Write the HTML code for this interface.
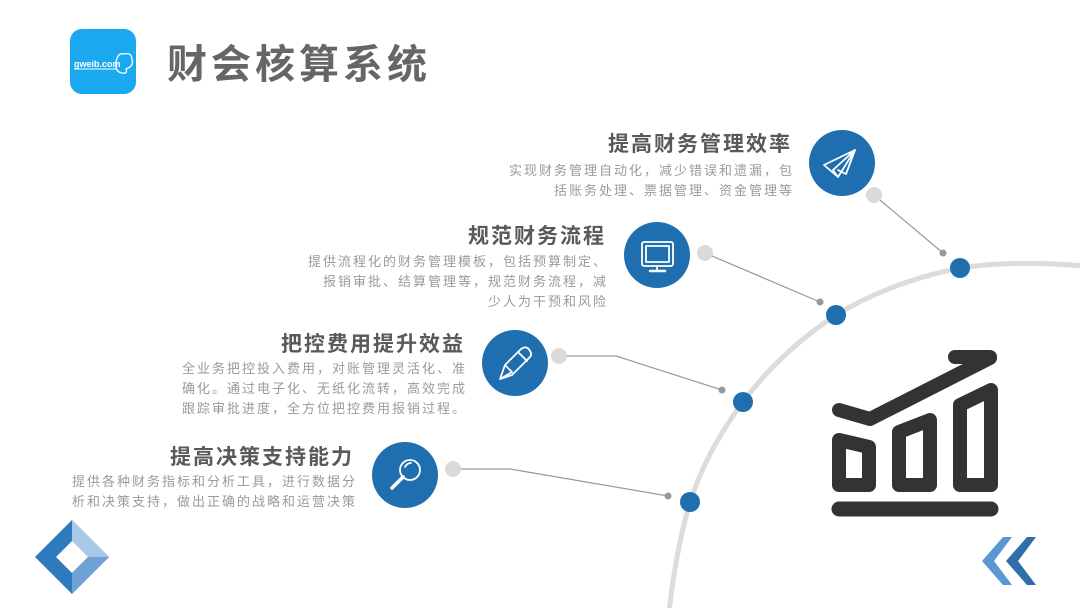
<!DOCTYPE html>
<html><head><meta charset="utf-8"><style>
html,body{margin:0;padding:0;background:#fff;}
body{width:1080px;height:608px;position:relative;overflow:hidden;font-family:"Liberation Sans","Noto Sans CJK SC",sans-serif;}
.t{position:absolute;font-weight:bold;color:#595959;font-size:21px;letter-spacing:2px;text-align:right;white-space:nowrap;line-height:24px;}
.d{position:absolute;color:#9a9a9a;font-size:13px;text-align:right;white-space:nowrap;line-height:20px;letter-spacing:2px;}
</style></head><body>
<svg width="1080" height="608" style="position:absolute;left:0;top:0">
<rect x="70" y="29" width="66" height="65" rx="12" fill="#1aa8ee"/>
<text x="74" y="67" font-family="Liberation Sans" font-size="9" font-weight="bold" fill="#fff">gweib.com</text>
<line x1="74" y1="69" x2="116" y2="69" stroke="#fff" stroke-width="1"/>
<path d="M116 62 Q118 52 124 54 Q132 52 132 60 Q134 66 126 69 Q128 74 122 73 Q116 72 116 66 Z" fill="none" stroke="#fff" stroke-width="1.3"/>
<path d="M1085 266 Q1010 260 960 268 Q890 282 836 315 Q780 352 743 402 Q707 450 690 502 Q676 550 669 612" fill="none" stroke="#dcdcdc" stroke-width="5"/>
<g stroke="#999" stroke-width="1.2" fill="none">
<line x1="874" y1="195" x2="943" y2="253"/>
<line x1="705" y1="253" x2="820" y2="302"/>
<polyline points="559,356 616,356 722,390"/>
<polyline points="453,469 510,469 668,496"/>
</g>
<g fill="#999"><circle cx="943" cy="253" r="3.5"/><circle cx="820" cy="302" r="3.5"/><circle cx="722" cy="390" r="3.5"/><circle cx="668" cy="496" r="3.5"/></g>
<g fill="#dadada"><circle cx="874" cy="195" r="8"/><circle cx="705" cy="253" r="8"/><circle cx="559" cy="356" r="8"/><circle cx="453" cy="469" r="8"/></g>
<g fill="#1f6fb0"><circle cx="960" cy="268" r="10"/><circle cx="836" cy="315" r="10"/><circle cx="743" cy="402" r="10"/><circle cx="690" cy="502" r="10"/></g>
<g fill="#1f6fb0"><circle cx="842" cy="163" r="33"/><circle cx="657" cy="255" r="33"/><circle cx="515" cy="363" r="33"/><circle cx="405" cy="475" r="33"/></g>
<g fill="none" stroke="#fff" stroke-width="1.8" stroke-linejoin="round" stroke-linecap="round">
<path d="M824 165 L855 150 L838 177 Z M855 150 L833 170 L838 177 M855 150 L846 174 L838 170"/>
<rect x="642" y="242" width="31" height="24" rx="2"/><rect x="646" y="246" width="23" height="16"/><line x1="650" y1="271" x2="665" y2="271" stroke-width="2.5"/><line x1="657" y1="266" x2="657" y2="270"/>
<path d="M500 379 L505 365 L521 349 Q527 345 530 351 Q533 355 528 359 L512 375 Z M505 365 L512 372 L500 379 M518 352 L527 361"/>
<circle cx="410" cy="470" r="10"/><line x1="403" y1="477" x2="392" y2="488" stroke-width="3.5"/><path d="M405 467 Q407 463 411 463"/>
</g>
<g fill="none" stroke="#333" stroke-width="14" stroke-linejoin="round" stroke-linecap="round">
<polyline points="839,410 870,419 990,358"/>
<line x1="955" y1="357" x2="990" y2="357"/>
<path d="M839 440 L869 447 L869 485 L839 485 Z"/>
<path d="M899 432 L930 420 L930 485 L899 485 Z"/>
<path d="M960 405 L991 390 L991 485 L960 485 Z"/>
<line x1="839" y1="509" x2="991" y2="509" stroke-width="15"/>
</g>
<polygon points="72,520 109,557 72,594 35,557" fill="#2f79bd"/>
<polygon points="72,520 109,557 91,575 72,541" fill="#a9c8e6"/>
<polygon points="72,541 88,557 72,573 56,557" fill="#fff"/>
<polygon points="88,557 109,557 72,594 72,573" fill="#6ea2d3"/>
<polygon points="1003,537 1012,537 994,561 1012,585 1003,585 982,561" fill="#5a98d3"/>
<polygon points="1027,537 1036,537 1018,561 1036,585 1027,585 1006,561" fill="#2f6ea8"/>
</svg>
<div style="position:absolute;left:167px;top:40px;font-size:40px;font-weight:bold;color:#666;letter-spacing:4px;line-height:50px;white-space:nowrap">财会核算系统</div>

<div class="t" style="right:288px;top:133px">提高财务管理效率</div>
<div class="d" style="right:286px;top:161px">实现财务管理自动化，减少错误和遗漏，包<br>括账务处理、票据管理、资金管理等</div>

<div class="t" style="right:474px;top:225px">规范财务流程</div>
<div class="d" style="right:472px;top:252px">提供流程化的财务管理模板，包括预算制定、<br>报销审批、结算管理等，规范财务流程，减<br>少人为干预和风险</div>

<div class="t" style="right:615px;top:333px">把控费用提升效益</div>
<div class="d" style="right:613px;top:359px">全业务把控投入费用，对账管理灵活化、准<br>确化。通过电子化、无纸化流转，高效完成<br>跟踪审批进度，全方位把控费用报销过程。</div>

<div class="t" style="right:726px;top:446px">提高决策支持能力</div>
<div class="d" style="right:723px;top:472px">提供各种财务指标和分析工具，进行数据分<br>析和决策支持，做出正确的战略和运营决策</div>
</body></html>
